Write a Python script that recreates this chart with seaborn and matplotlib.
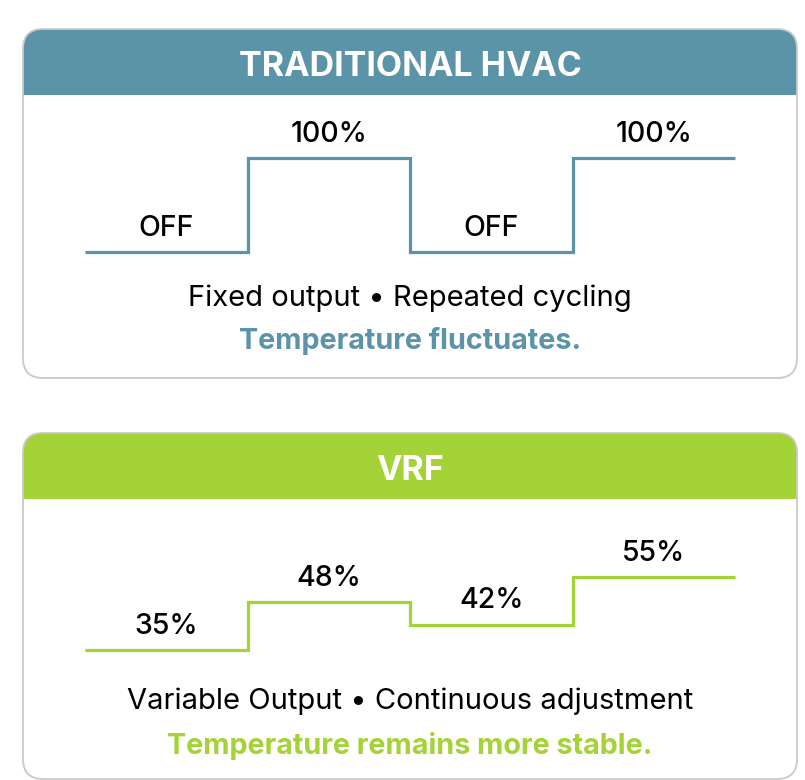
import numpy as np
import pandas as pd
import seaborn as sns
import matplotlib.pyplot as plt
from matplotlib.patches import FancyBboxPatch, Rectangle

sns.set_theme(style="white")
plt.rcParams['font.family'] = ['Inter', 'DejaVu Sans']

# data
hvac_levels = [0, 100, 0, 100]
hvac_labels = ["OFF", "100%", "OFF", "100%"]
vrf_levels = [35, 48, 42, 55]
vrf_labels = ["35%", "48%", "42%", "55%"]

TEAL = "#5b93a8"
GREEN = "#a3d337"
BORDER = "#c9c9c9"

W, H = 805, 780
fig = plt.figure(figsize=(W / 100, H / 100), dpi=100)
bg = fig.add_axes([0, 0, 1, 1])
bg.set_xlim(0, W)
bg.set_ylim(H, 0)
bg.axis("off")


def panel(top, bottom, head_h, color, title):
    left, right = 23, 797
    body = FancyBboxPatch((left, top), right - left, bottom - top,
                          boxstyle="round,pad=0,rounding_size=20",
                          fc="white", ec="none", zorder=1)
    bg.add_patch(body)
    head = FancyBboxPatch((left, top), right - left, bottom - top,
                          boxstyle="round,pad=0,rounding_size=20",
                          fc=color, ec="none", zorder=2)
    bg.add_patch(head)
    clip = Rectangle((left, top), right - left, head_h, transform=bg.transData)
    head.set_clip_path(clip)
    edge = FancyBboxPatch((left, top), right - left, bottom - top,
                          boxstyle="round,pad=0,rounding_size=20",
                          fc="none", ec=BORDER, lw=1.3, zorder=3)
    bg.add_patch(edge)
    bg.text(410, top + head_h / 2 + 5, title, color="white", fontsize=24.5,
            fontweight="bold", ha="center", va="center", zorder=4)


def step_axes(px_top, px_bottom, ylim, levels, labels, color):
    ax = fig.add_axes([85 / W, 1 - px_bottom / H, 650 / W, (px_bottom - px_top) / H])
    df = pd.DataFrame({"x": np.arange(len(levels) + 1),
                       "y": list(levels) + [levels[-1]]})
    sns.lineplot(data=df, x="x", y="y", drawstyle="steps-post", color=color,
                 linewidth=2.3, ax=ax, clip_on=False,
                 solid_capstyle="butt", solid_joinstyle="miter")
    for i, (v, lab) in enumerate(zip(levels, labels)):
        ax.annotate(lab, (i + 0.5, v), xytext=(0, 17), textcoords="offset points",
                    ha="center", va="center", fontsize=20.5, fontweight="medium",
                    color="black")
    ax.set_xlim(0, len(levels))
    ax.set_ylim(*ylim)
    ax.axis("off")
    ax.patch.set_alpha(0)
    return ax


panel(29, 378, 66, TEAL, "TRADITIONAL HVAC")
panel(433, 779, 66, GREEN, "VRF")

step_axes(158, 252, (0, 100), hvac_levels, hvac_labels, TEAL)
step_axes(558.4, 668.6, (30, 60), vrf_levels, vrf_labels, GREEN)

bg.text(410, 298, "Fixed output \u2022 Repeated cycling", fontsize=21,
        ha="center", va="center", color="black", zorder=4)
bg.text(410, 341, "Temperature fluctuates.", fontsize=20.7, fontweight="bold",
        ha="center", va="center", color=TEAL, zorder=4)
bg.text(410, 701, "Variable Output \u2022 Continuous adjustment", fontsize=21,
        ha="center", va="center", color="black", zorder=4)
bg.text(410, 746, "Temperature remains more stable.", fontsize=20.7, fontweight="bold",
        ha="center", va="center", color=GREEN, zorder=4)

fig.savefig("out.png", dpi=100, facecolor="white")
